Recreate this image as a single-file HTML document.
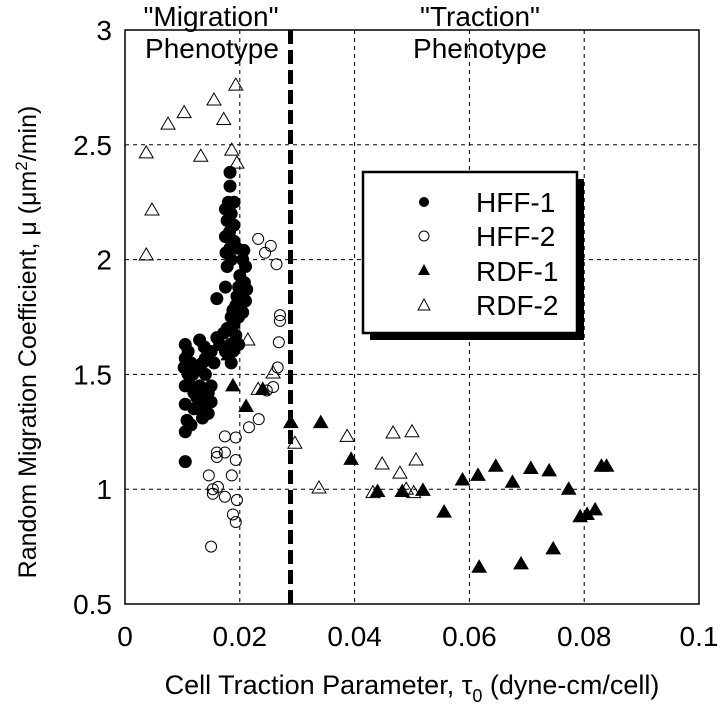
<!DOCTYPE html>
<html><head><meta charset="utf-8"><style>
body{margin:0;background:#fff}
svg{display:block;font-family:"Liberation Sans",Arial,sans-serif}
</style></head><body>
<svg id="chart" width="720" height="712" viewBox="0 0 720 712">
<g id="grid"></g>
<g id="axes"></g>
<g id="marks"></g>
<line x1="290.5" y1="30" x2="290.5" y2="604" stroke="#000" stroke-width="5" stroke-dasharray="14,6"/>
<g font-size="28" text-anchor="middle">
<text x="211" y="26">"Migration"</text><text x="212" y="58">Phenotype</text></g>
<g font-size="28" text-anchor="middle">
<text x="480" y="26">"Traction"</text><text x="480" y="58">Phenotype</text></g>
<g>
<rect x="370" y="179" width="214" height="161" fill="#000"/>
<rect x="363" y="172" width="214" height="161" fill="#fff" stroke="#000" stroke-width="2.5"/>
<circle cx="424" cy="202" r="5" fill="#000"/>
<text x="476" y="212" font-size="28">HFF-1</text>
<circle cx="424" cy="236" r="5" fill="#fff" stroke="#000" stroke-width="1"/>
<text x="476" y="246" font-size="28">HFF-2</text>
<path d="M424,264 L430,275 L418,275 Z" fill="#000"/>
<text x="476" y="281" font-size="28">RDF-1</text>
<path d="M424,299 L430,310 L418,310 Z" fill="#fff" stroke="#000"/>
<text x="476" y="315" font-size="28">RDF-2</text>
</g>
<text transform="translate(36,342) rotate(-90)" text-anchor="middle" font-size="25">Random Migration Coefficient, μ (μm<tspan dy="-9" font-size="17">2</tspan><tspan dy="9">/min)</tspan></text>
<text x="412" y="694" text-anchor="middle" font-size="27">Cell Traction Parameter, τ<tspan dy="8" font-size="18">0</tspan><tspan dy="-8"> (dyne-cm/cell)</tspan></text>
</svg>
<script>
const xTicks=[0,0.02,0.04,0.06,0.08,0.1];
const xTickLabels=["0","0.02","0.04","0.06","0.08","0.1"];
const yTicks=[0.5,1,1.5,2,2.5,3];
const yTickLabels=["0.5","1","1.5","2","2.5","3"];
const hff1X=[0.0183,0.0183,0.018,0.019,0.0175,0.0185,0.0178,0.019,0.0182,0.0175,0.019,0.0183,0.0195,0.0176,0.0185,0.0178,0.0207,0.0205,0.021,0.020,0.0208,0.0198,0.0212,0.0205,0.0195,0.021,0.0202,0.0193,0.0188,0.0205,0.0198,0.0185,0.019,0.0178,0.0172,0.016,0.0165,0.015,0.0175,0.0145,0.0155,0.013,0.0138,0.014,0.0193,0.0198,0.0175,0.016,0.0105,0.011,0.0105,0.0115,0.0103,0.011,0.0118,0.0125,0.0105,0.0115,0.012,0.013,0.0125,0.0135,0.014,0.0145,0.015,0.0145,0.0128,0.012,0.0105,0.0108,0.0115,0.0105,0.0135,0.014,0.015,0.0135,0.0105,0.0185,0.0183,0.0188];
const hff1Y=[2.38,2.32,2.25,2.25,2.22,2.2,2.17,2.15,2.12,2.1,2.08,2.05,2.05,2.03,2.0,1.97,2.04,2.0,1.97,1.93,1.9,1.88,1.87,1.85,1.84,1.82,1.8,1.8,1.78,1.77,1.75,1.75,1.72,1.7,1.68,1.66,1.63,1.6,1.6,1.58,1.55,1.65,1.62,1.57,1.67,1.63,1.88,1.83,1.63,1.6,1.57,1.55,1.53,1.5,1.5,1.53,1.45,1.45,1.42,1.45,1.4,1.4,1.37,1.42,1.38,1.33,1.35,1.35,1.37,1.3,1.28,1.25,1.31,1.5,1.45,1.55,1.12,1.55,1.63,1.6];
const hff2X=[0.027,0.027,0.0268,0.0266,0.0258,0.0247,0.0233,0.0216,0.0174,0.0193,0.016,0.0174,0.016,0.0193,0.0146,0.0186,0.0153,0.0162,0.0153,0.0174,0.0195,0.0188,0.0193,0.015,0.0232,0.0254,0.0244,0.0264];
const hff2Y=[1.758,1.733,1.64,1.53,1.445,1.43,1.305,1.27,1.23,1.225,1.16,1.16,1.14,1.127,1.06,1.06,1.0,1.01,0.98,0.967,0.953,0.89,0.857,0.75,2.09,2.06,2.03,1.98];
const rdf1X=[0.0188,0.018,0.0211,0.024,0.0289,0.0341,0.0394,0.044,0.0483,0.0519,0.0556,0.0588,0.0615,0.0646,0.0675,0.0707,0.0739,0.0773,0.0793,0.0805,0.0819,0.083,0.0839,0.0746,0.0617,0.069];
const rdf1Y=[1.45,1.585,1.36,1.435,1.29,1.29,1.13,0.99,0.99,0.995,0.90,1.04,1.06,1.10,1.03,1.09,1.08,1.0,0.88,0.89,0.91,1.10,1.10,0.74,0.66,0.675];
const rdf2X=[0.0193,0.0155,0.0103,0.0075,0.0172,0.0037,0.0132,0.0186,0.0195,0.0047,0.0037,0.0214,0.0258,0.0232,0.0296,0.0387,0.0338,0.0432,0.0448,0.0467,0.05,0.0479,0.049,0.0503,0.0507];
const rdf2Y=[2.76,2.695,2.64,2.59,2.61,2.465,2.45,2.477,2.42,2.216,2.02,1.65,1.506,1.435,1.2,1.23,1.005,0.985,1.11,1.245,1.25,1.07,1.0,0.985,1.127];
const NS="http://www.w3.org/2000/svg";
const X0=125,X1=699,Y0=604,Y1=30;
function sx(v){return X0+(v-0)/(0.1-0)*(X1-X0);}
function sy(v){return Y0-(v-0.5)/(3-0.5)*(Y0-Y1);}
function mk(tag,attrs,parent){const e=document.createElementNS(NS,tag);for(const k in attrs)e.setAttribute(k,attrs[k]);parent.appendChild(e);return e;}
const grid=document.getElementById('grid'),axes=document.getElementById('axes'),marks=document.getElementById('marks');
xTicks.forEach((t,i)=>{
  if(i>0&&i<xTicks.length-1){const g=mk('line',{x1:sx(t),x2:sx(t),y1:Y1,y2:Y0,stroke:'#000','stroke-width':1,'stroke-dasharray':'4,4'},grid);
  
  }
  const l=mk('text',{x:sx(t),y:646,'text-anchor':'middle','font-size':28},axes);l.textContent=xTickLabels[i];
  
  
});
yTicks.forEach((t,i)=>{
  if(i>0&&i<yTicks.length-1){const g=mk('line',{x1:X0,x2:X1,y1:sy(t),y2:sy(t),stroke:'#000','stroke-width':1,'stroke-dasharray':'4,4'},grid);
  
  }
  const l=mk('text',{x:112,y:sy(t)+10,'text-anchor':'end','font-size':28},axes);l.textContent=yTickLabels[i];
  
  
});
const box=mk('rect',{x:X0,y:Y1,width:X1-X0,height:Y0-Y1,fill:'none',stroke:'#000','stroke-width':1.5},axes);


function circ(xs,ys,filled,name){xs.forEach((v,i)=>{const c=mk('circle',{cx:sx(v),cy:sy(ys[i]),r:filled?6:5.5,fill:filled?'#000':'none',stroke:'#000','stroke-width':1},marks);
  
  });}
function tri(xs,ys,filled,name){xs.forEach((v,i)=>{const x=sx(v),y=sy(ys[i]);const p=mk('path',{d:`M${x},${y-7} L${x+7},${y+5} L${x-7},${y+5} Z`,fill:filled?'#000':'#fff','fill-opacity':filled?1:0,stroke:'#000','stroke-width':1},marks);
  
  });}
circ(hff2X,hff2Y,false,'hff2-point');
tri(rdf2X,rdf2Y,false,'rdf2-point');
circ(hff1X,hff1Y,true,'hff1-point');
tri(rdf1X,rdf1Y,true,'rdf1-point');
</script>
</body></html>
